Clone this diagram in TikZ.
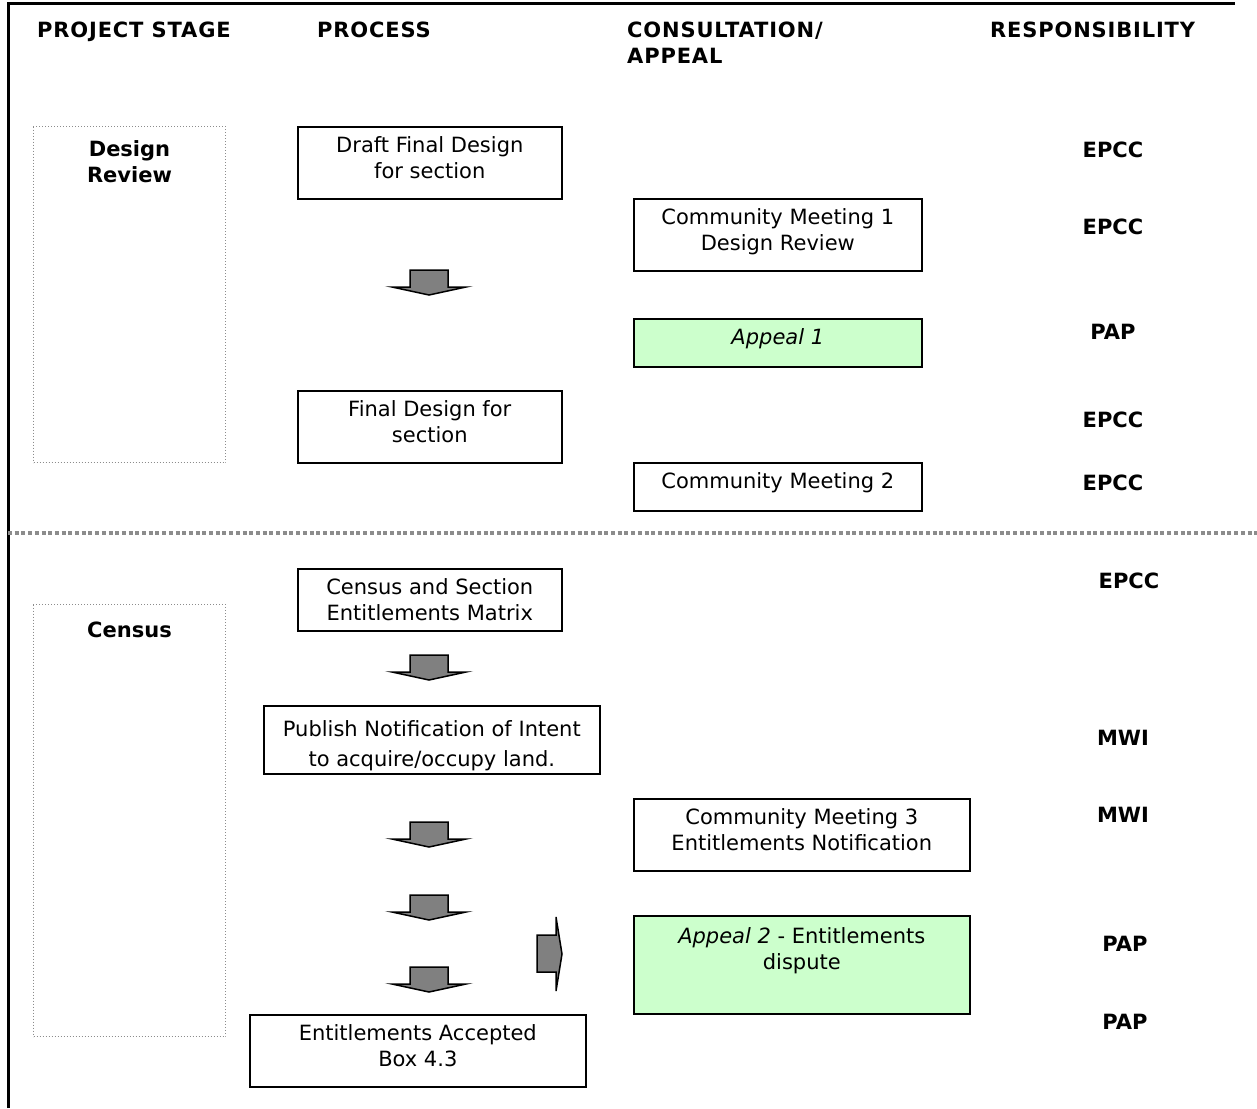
\documentclass[tikz,border=0pt]{standalone}
\usepackage{fontspec}
\setmainfont{DejaVu Sans}
\usetikzlibrary{positioning}
\definecolor{appealgreen}{HTML}{CCFFCC}
\definecolor{arrowgrey}{HTML}{808080}
\definecolor{dotgrey}{HTML}{8C8C8C}
\tikzset{
  heading/.style={font=\fontsize{21}{26}\selectfont\bfseries\addfontfeature{LetterSpace=4}, inner sep=0pt, align=left},
  resp/.style={font=\fontsize{21}{26}\selectfont\bfseries, inner sep=0pt},
  stagebox/.style={draw=dotgrey, line width=1pt, dash pattern=on 1pt off 2pt, inner sep=0pt, anchor=north west},
  stagetext/.style={font=\fontsize{21}{26}\selectfont\bfseries, inner sep=0pt, align=center},
  procbox/.style={draw, line width=1.6pt, inner sep=0pt, anchor=north west},
  appealbox/.style={procbox, fill=appealgreen},
  boxtext/.style={font=\fontsize{21}{26}\selectfont, inner sep=0pt, align=center},
  blockarrow/.style={draw, line width=1.5pt, fill=arrowgrey, line join=miter},
  separator/.style={draw=dotgrey, line width=3.5pt, dash pattern=on 4pt off 2.7pt},
  frame/.style={draw, line width=3pt}
}
\begin{document}
\begin{tikzpicture}[x=1pt, y=-1pt]
  \useasboundingbox (0,0) rectangle (1257,1108);
  \draw[frame] (8,1108) -- (8,4) -- (1235,4);
  \draw[separator] (8,533) -- (1257,533);

  \node[heading, anchor=north west] (hstage) at (37,22) {PROJECT STAGE};
  \node[heading, anchor=north west] (hproc) at (317,22) {PROCESS};
  \node[heading, anchor=north west] (hcons) at (627,22) {CONSULTATION/\\APPEAL};
  \node[heading, anchor=north west] (hresp) at (990,22) {RESPONSIBILITY};

  \node[stagebox, minimum width=192pt, minimum height=336pt] (design) at (33,126) {};
  \node[stagetext, below=14pt of design.north] (design-t) {Design\\Review};
  \node[stagebox, minimum width=192pt, minimum height=432pt] (census) at (33,604) {};
  \node[stagetext, below=18pt of census.north] (census-t) {Census};

  \node[procbox, minimum width=264pt, minimum height=72pt] (draft) at (297,126) {};
  \node[boxtext, below=10pt of draft.north] (draft-t) {Draft Final Design\\for section};
  \node[procbox, minimum width=288pt, minimum height=72pt] (cm1) at (633,198) {};
  \node[boxtext, below=10pt of cm1.north] (cm1-t) {Community Meeting 1\\Design Review};
  \node[appealbox, minimum width=288pt, minimum height=48pt] (ap1) at (633,318) {};
  \node[boxtext, below=10pt of ap1.north] (ap1-t) {\itshape Appeal 1};
  \node[procbox, minimum width=264pt, minimum height=72pt] (final) at (297,390) {};
  \node[boxtext, below=10pt of final.north] (final-t) {Final Design for\\section};
  \node[procbox, minimum width=288pt, minimum height=48pt] (cm2) at (633,462) {};
  \node[boxtext, below=10pt of cm2.north] (cm2-t) {Community Meeting 2};

  \node[procbox, minimum width=264pt, minimum height=62pt] (matrix) at (297,568) {};
  \node[boxtext, below=10pt of matrix.north] (matrix-t) {Census and Section\\Entitlements Matrix};
  \node[procbox, minimum width=336pt, minimum height=68pt] (publish) at (263,705) {};
  \node[boxtext, font=\fontsize{21}{30}\selectfont, below=15pt of publish.north] (publish-t) {Publish Notification of Intent\\to acquire/occupy land.};
  \node[procbox, minimum width=336pt, minimum height=72pt] (cm3) at (633,798) {};
  \node[boxtext, below=10pt of cm3.north] (cm3-t) {Community Meeting 3\\Entitlements Notification};
  \node[appealbox, minimum width=336pt, minimum height=98pt] (ap2) at (633,915) {};
  \node[boxtext, below=12pt of ap2.north] (ap2-t) {\textit{Appeal 2} - Entitlements\\dispute};
  \node[procbox, minimum width=336pt, minimum height=72pt] (accepted) at (249,1014) {};
  \node[boxtext, below=10pt of accepted.north] (accepted-t) {Entitlements Accepted\\Box 4.3};

  \node[resp] (r1) at (1113,150) {EPCC};
  \node[resp] (r2) at (1113,227) {EPCC};
  \node[resp] (r3) at (1113,332) {PAP};
  \node[resp] (r4) at (1113,420) {EPCC};
  \node[resp] (r5) at (1113,483) {EPCC};
  \node[resp] (r6) at (1129,581) {EPCC};
  \node[resp] (r7) at (1123,738) {MWI};
  \node[resp] (r8) at (1123,815) {MWI};
  \node[resp] (r9) at (1125,944) {PAP};
  \node[resp] (r10) at (1125,1022) {PAP};

  \foreach \y in {270,655,822,895,967}
    \draw[blockarrow] (410,\y) -- (448,\y) -- (448,\y+17) -- (466,\y+17)
      -- (429,\y+25) -- (392,\y+17) -- (410,\y+17) -- cycle;
  \draw[blockarrow] (537,935) -- (556,935) -- (556,917) -- (562,954)
    -- (556,991) -- (556,972) -- (537,972) -- cycle;
\end{tikzpicture}
\end{document}
